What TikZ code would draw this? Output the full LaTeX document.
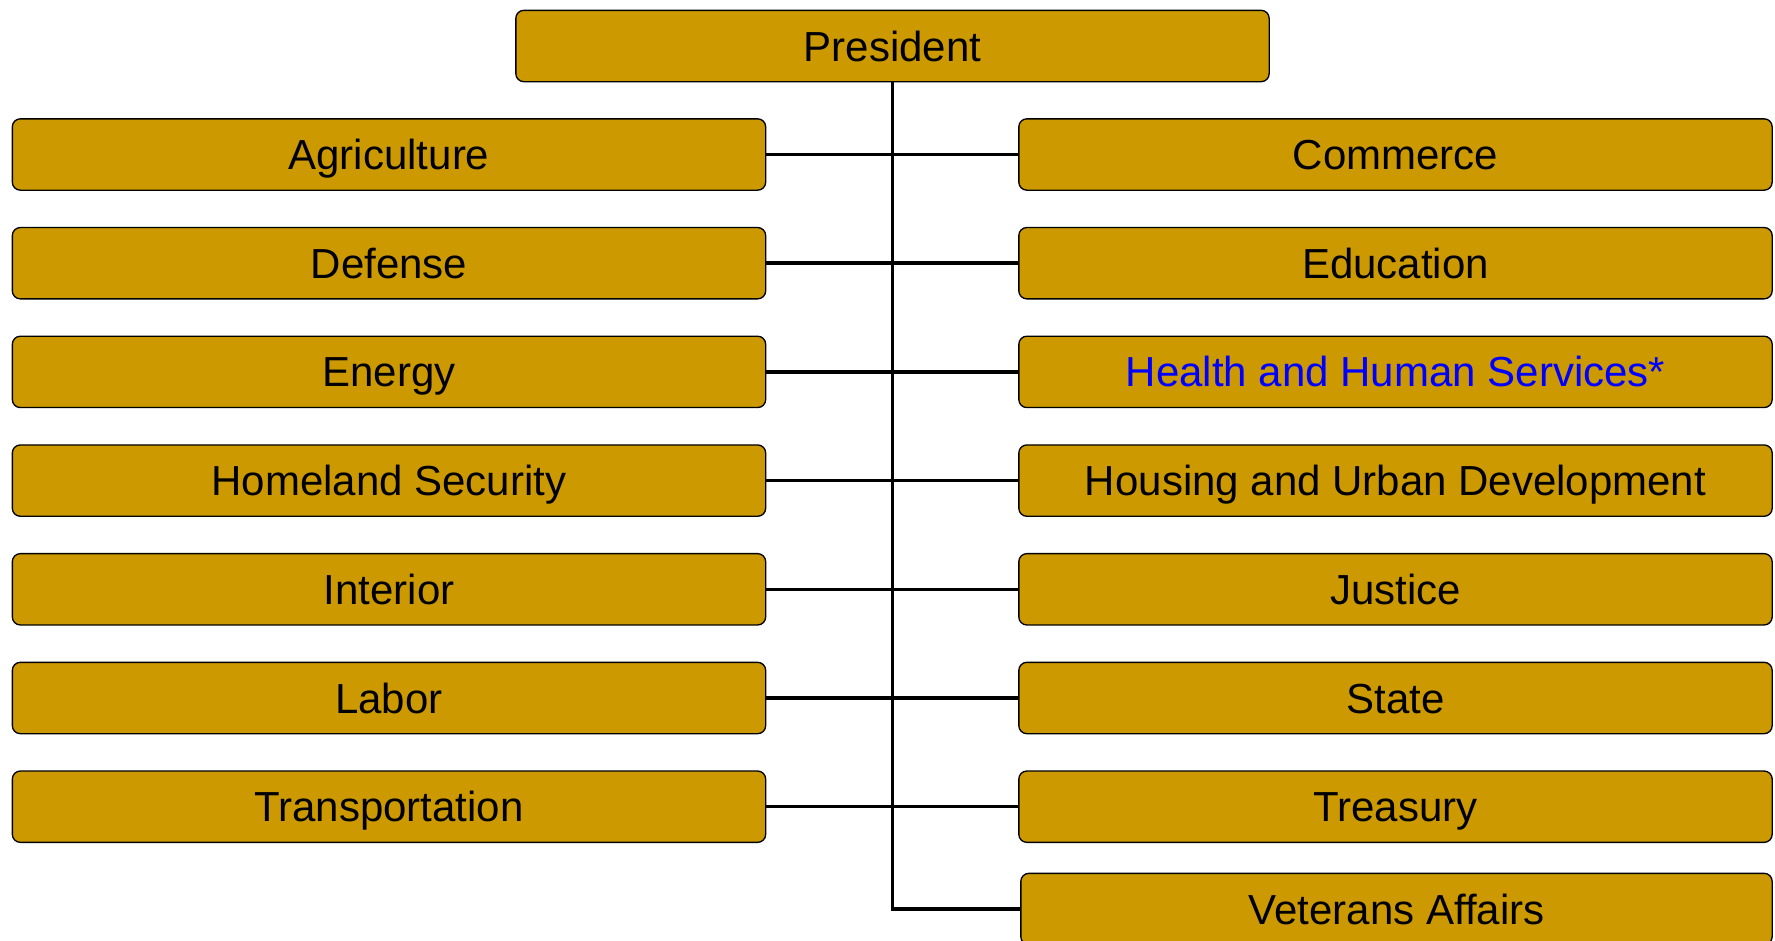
\documentclass[tikz,border=0pt]{standalone}
\usepackage{fontspec}
\setmainfont{Liberation Sans}
\definecolor{deptgold}{RGB}{204,153,0}
\definecolor{linkblue}{RGB}{0,0,255}
\tikzset{every picture/.style={line width=0.75pt}}
\tikzset{
	dept/.style={draw, line width=1pt, fill=deptgold, rounded corners=6pt,
		minimum width=565pt, minimum height=53.5pt, inner sep=0pt,
		text height=22.6pt, text depth=0pt,
		font=\fontsize{31.5}{36}\selectfont},
	link/.style={line width=2.6pt}}

\begin{document}
\begin{tikzpicture}[x=0.75pt,y=0.75pt,yscale=-1,xscale=1]
	\useasboundingbox (0,0) rectangle (1775,940);

	% President
	\node [dept] (pres) at (892.5,46) {President};

	% Left column
	\node [dept] (agr) at (389,154.5) {Agriculture};
	\node [dept] (def) at (389,263.2) {Defense};
	\node [dept] (ene) at (389,371.9) {Energy};
	\node [dept] (hom) at (389,480.6) {Homeland Security};
	\node [dept] (int) at (389,589.3) {Interior};
	\node [dept] (lab) at (389,698) {Labor};
	\node [dept] (tra) at (389,806.7) {Transportation};

	% Right column
	\node [dept] (com) at (1395.5,154.5) {Commerce};
	\node [dept] (edu) at (1395.5,263.2) {Education};
	\node [dept, text=linkblue] (hhs) at (1395.5,371.9) {Health and Human Services*};
	\node [dept] (hud) at (1395.5,480.6) {Housing and Urban Development};
	\node [dept] (jus) at (1395.5,589.3) {Justice};
	\node [dept] (sta) at (1395.5,698) {State};
	\node [dept] (tre) at (1395.5,806.7) {Treasury};
	\node [dept, minimum width=563.5pt] (vet) at (1396.5,909) {Veterans Affairs};

	% Connectors
	\draw [link] (agr.east) -- (com.west);
	\draw [link] (def.east) -- (edu.west);
	\draw [link] (ene.east) -- (hhs.west);
	\draw [link] (hom.east) -- (hud.west);
	\draw [link] (int.east) -- (jus.west);
	\draw [link] (lab.east) -- (sta.west);
	\draw [link] (tra.east) -- (tre.west);
	\draw [link] (pres.south) |- (vet.west);

\end{tikzpicture}
\end{document}
